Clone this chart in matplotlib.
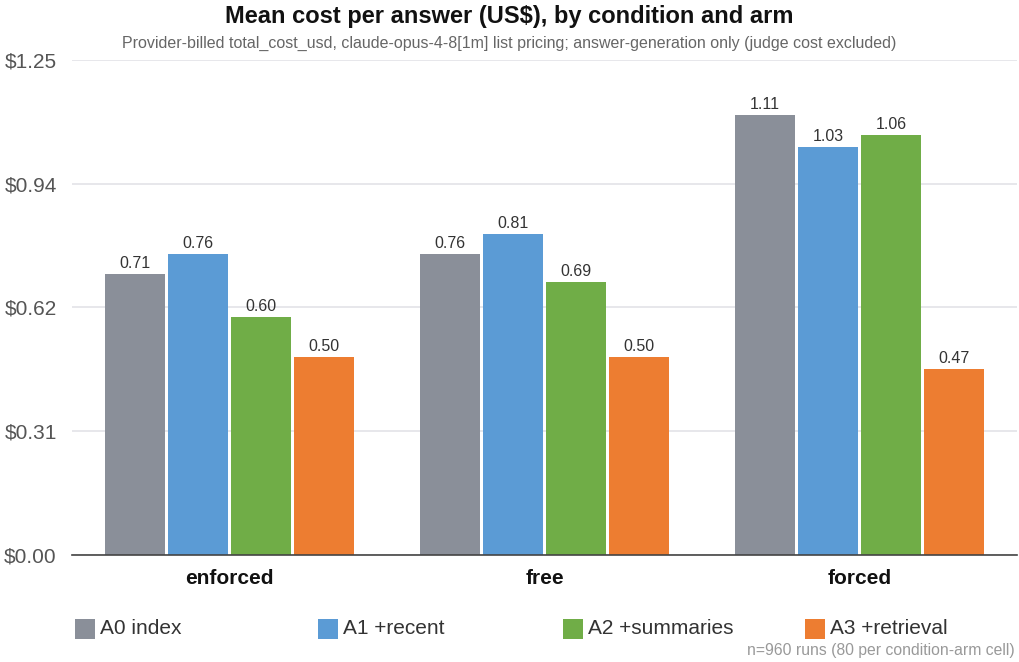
import matplotlib
matplotlib.use("Agg")
import matplotlib.pyplot as plt
import numpy as np

plt.rcParams['font.family'] = ['Liberation Sans', 'DejaVu Sans']

conditions = ["enforced", "free", "forced"]
arms = ["A0 index", "A1 +recent", "A2 +summaries", "A3 +retrieval"]
values = {
    "A0 index": [0.71, 0.76, 1.11],
    "A1 +recent": [0.76, 0.81, 1.03],
    "A2 +summaries": [0.60, 0.69, 1.06],
    "A3 +retrieval": [0.50, 0.50, 0.47],
}
colors = ["#8a8f99", "#5b9bd5", "#70ad47", "#ed7d31"]
yticks = [0.0, 0.3125, 0.625, 0.9375, 1.25]

fig = plt.figure(figsize=(10.19, 6.62), dpi=100)
ax = fig.add_axes([72/1019, 1-555/662, 945/1019, 495/662])

x = np.arange(len(conditions))
bw = 0.19
step = 0.2
for i, arm in enumerate(arms):
    off = (i - 1.5) * step
    ax.bar(x + off, values[arm], width=bw, color=colors[i], zorder=3)
    for xb, v in zip(x + off, values[arm]):
        ax.text(xb, v + 0.008, f"{v:.2f}", ha="center", va="bottom",
                fontsize=11.5, color="#333333", zorder=4)

ax.set_xlim(-0.5, 2.5)
ax.set_ylim(0, 1.25)
ax.set_yticks(yticks)
ax.set_yticklabels([f"${t:.2f}" for t in yticks], fontsize=15, color="#555555")
ax.set_xticks(x)
ax.set_xticklabels(conditions, fontsize=15, fontweight="bold", color="#111111")
ax.tick_params(axis="both", length=0)
ax.tick_params(axis="y", pad=11)
ax.tick_params(axis="x", pad=10)
ax.yaxis.grid(True, color="#e3e3e8", linewidth=1.2, zorder=0)
for s in ["top", "right", "left"]:
    ax.spines[s].set_visible(False)
ax.spines["bottom"].set_color("#444444")
ax.spines["bottom"].set_linewidth(1.2)
ax.spines["bottom"].set_zorder(5)

fig.text(0.5, 1-16/662, "Mean cost per answer (US$), by condition and arm",
         ha="center", va="center", fontsize=17, fontweight="bold", color="#111111")
fig.text(0.5, 1-43/662,
         "Provider-billed total_cost_usd, claude-opus-4-8[1m] list pricing; answer-generation only (judge cost excluded)",
         ha="center", va="center", fontsize=11.5, color="#666666")

leg_x = [75, 318, 563, 805]
for lab, lx, c in zip(arms, leg_x, colors):
    fig.patches.append(matplotlib.patches.Rectangle((lx/1019, 1-639/662), 20/1019, 20/662,
                                                     transform=fig.transFigure, facecolor=c,
                                                     edgecolor="none"))
    fig.text((lx+25)/1019, 1-629/662, lab, ha="left", va="center", fontsize=15, color="#333333")

fig.text(1015/1019, 1-650/662, "n=960 runs (80 per condition-arm cell)",
         ha="right", va="center", fontsize=11.3, color="#999999")

fig.savefig("out.png", dpi=100)
